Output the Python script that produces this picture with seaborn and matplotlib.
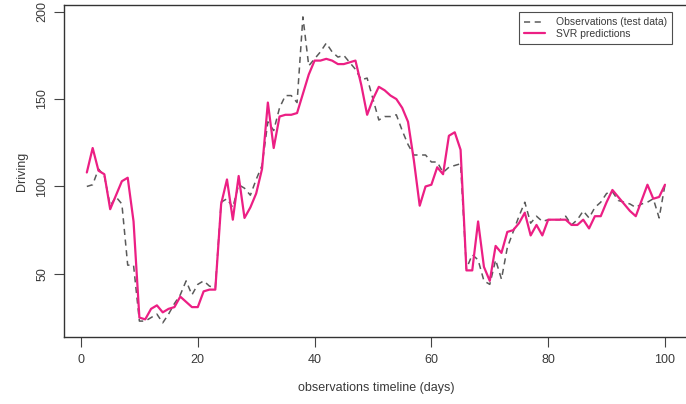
import matplotlib
matplotlib.use('Agg')
import matplotlib.pyplot as plt
import seaborn as sns
import pandas as pd

# ---------------------------
# Data
# ---------------------------
days = list(range(1, 101))

observed = [100, 101, 110, 106, 89, 94, 90, 55, 55, 23,
            23, 25, 27, 22, 27, 33, 38, 46, 38, 44,
            46, 43, 42, 91, 93, 88, 101, 99, 95, 104,
            112, 137, 132, 145, 152, 152, 148, 197, 169, 173,
            177, 182, 177, 174, 175, 171, 167, 161, 162, 150,
            138, 140, 140, 141, 132, 124, 118, 118, 118, 114,
            114, 108, 111, 112, 113, 53, 61, 58, 46, 44,
            58, 47, 65, 74, 83, 91, 79, 83, 80, 81,
            81, 81, 83, 78, 81, 86, 82, 88, 91, 96,
            97, 92, 91, 90, 88, 90, 91, 93, 82, 101]

svr_pred = [108, 122, 109, 107, 87, 95, 103, 105, 80, 25,
            24, 30, 32, 28, 30, 31, 37, 34, 31, 31,
            40, 41, 41, 90, 104, 81, 106, 82, 88, 96,
            110, 148, 122, 140, 141, 141, 142, 153, 164, 172,
            172, 173, 172, 170, 170, 171, 172, 158, 141, 150,
            157, 155, 152, 150, 145, 137, 115, 89, 100, 101,
            111, 107, 129, 131, 121, 52, 52, 80, 54, 46,
            66, 62, 74, 75, 79, 85, 72, 78, 72, 81,
            81, 81, 81, 78, 78, 81, 76, 83, 83, 91,
            98, 94, 90, 86, 83, 92, 101, 93, 94, 101]

x_ticks = [0, 20, 40, 60, 80, 100]
y_ticks = [50, 100, 150, 200]

df = pd.DataFrame({'day': days, 'obs': observed, 'svr': svr_pred})

# ---------------------------
# Style
# ---------------------------
sns.set_style('ticks')
plt.rcParams['font.family'] = ['Liberation Sans Narrow', 'Liberation Sans', 'DejaVu Sans']
text_col = '#3a3a3a'

fig = plt.figure(figsize=(6.86, 4.04), dpi=100)
ax = fig.add_axes([63.7 / 686, 67 / 404, 624.4 / 686, 332 / 404])

sns.lineplot(data=df, x='day', y='obs', ax=ax, color='#5a5a5a', linewidth=1.1,
             linestyle=(0, (4, 3)), label='Observations (test data)',
             estimator=None, sort=False)
sns.lineplot(data=df, x='day', y='svr', ax=ax, color='#ec1f84', linewidth=1.6,
             label='SVR predictions', estimator=None, sort=False)

ax.set_xlim(-2.96, 103.96)
ax.set_ylim(13.9, 203.8)
ax.set_xticks(x_ticks)
ax.set_yticks(y_ticks)

for sp in ax.spines.values():
    sp.set_visible(True)
    sp.set_color('#333333')
    sp.set_linewidth(1.0)

ax.tick_params(axis='both', direction='out', length=7, width=0.8,
               color='#444444', labelcolor=text_col, labelsize=9,
               bottom=True, left=True)
ax.tick_params(axis='x', pad=5)
ax.tick_params(axis='y', pad=4)
plt.setp(ax.get_yticklabels(), rotation=90, va='center')

ax.set_xlabel('observations timeline (days)', fontsize=9, color=text_col, labelpad=12)
ax.set_ylabel('Driving', fontsize=9, color=text_col, labelpad=6)

leg = ax.legend(loc='upper right', bbox_to_anchor=(672 / 686, 1 - 12 / 404),
                bbox_transform=fig.transFigure, borderaxespad=0,
                fontsize=7.5, frameon=True, fancybox=False,
                handlelength=2.0, handletextpad=1.0, labelspacing=0.15,
                borderpad=0.5)
leg.get_frame().set_edgecolor('#222222')
leg.get_frame().set_linewidth(0.8)
for t in leg.get_texts():
    t.set_color(text_col)

fig.savefig('out.png', dpi=100)
